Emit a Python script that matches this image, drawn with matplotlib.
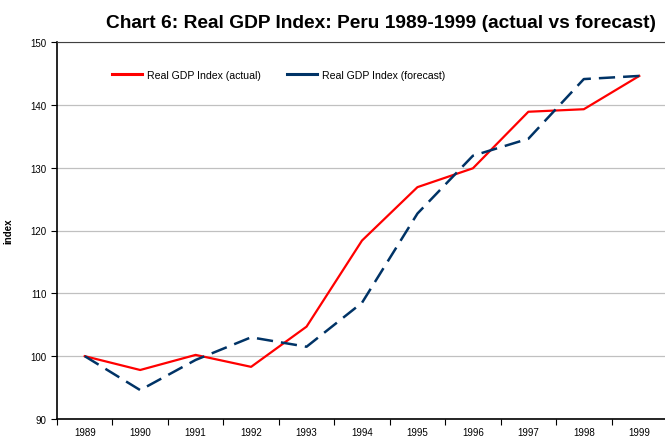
import matplotlib.pyplot as plt
from matplotlib.lines import Line2D
import numpy as np

plt.rcParams['font.family'] = ['Liberation Sans', 'DejaVu Sans']

# data
years = ['1989', '1990', '1991', '1992', '1993', '1994', '1995', '1996', '1997', '1998', '1999']
actual = [100.0, 97.8, 100.2, 98.3, 104.7, 118.4, 126.9, 129.9, 138.9, 139.3, 144.6]
forecast = [100.0, 94.6, 99.4, 103.0, 101.5, 108.5, 122.7, 131.9, 134.6, 144.1, 144.6]

red = '#ff0000'
navy = '#003366'

fig = plt.figure(figsize=(6.65, 4.39), dpi=100)
ax = fig.add_axes([57/665, 19/439, 610/665, 377/439])

x = np.arange(len(years))
ax.plot(x, actual, color=red, lw=1.6)
ax.plot(x, forecast, color=navy, lw=1.8, linestyle=(0, (6.5, 3.2)))

ax.set_xlim(-0.5, len(years) - 0.5)
ax.set_ylim(90, 150)
ax.set_yticks(np.arange(90, 151, 10))
ax.grid(axis='y', color='#c0c0c0', lw=0.9)
ax.set_axisbelow(True)

# tick marks between categories, labels at centers
ax.set_xticks(np.arange(-0.5, len(years), 1))
ax.set_xticklabels([])
ax.set_xticks(x, minor=True)
ax.set_xticklabels(years, minor=True)
ax.tick_params(axis='x', which='minor', length=0, labelsize=7, pad=6, colors='black')
ax.tick_params(axis='x', which='major', length=4, width=0.8, direction='out')
ax.tick_params(axis='y', length=4, width=0.8, direction='out', labelsize=7)

ax.spines['left'].set_linewidth(1.2)
ax.spines['bottom'].set_linewidth(1.2)
ax.spines['top'].set_color('#404040')
ax.spines['right'].set_visible(False)

ax.set_ylabel('index', fontsize=7, fontweight='bold', labelpad=12)

handles = [Line2D([], [], color=red, lw=2.2),
           Line2D([], [], color=navy, lw=2.2)]
leg = ax.legend(handles, ['Real GDP Index (actual)', 'Real GDP Index (forecast)'],
                loc='center left', bbox_to_anchor=(0.075, 0.913), ncol=2, frameon=False,
                fontsize=7.6, handlelength=2.8, handletextpad=0.5, columnspacing=2.5)

fig.text(106/665, 1 - 24/439, 'Chart 6: Real GDP Index: Peru 1989-1999 (actual vs forecast)',
         fontsize=13.8, fontweight='bold', va='center', ha='left')

plt.savefig('out.png', dpi=100)
